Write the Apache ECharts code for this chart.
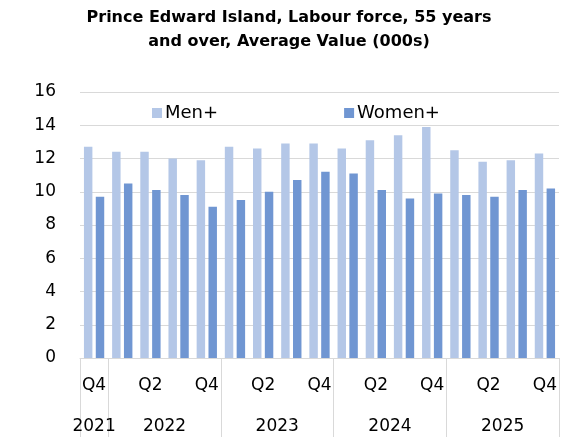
<!DOCTYPE html>
<html>
<head>
<meta charset="utf-8">
<script src="https://cdn.jsdelivr.net/npm/echarts@6/dist/echarts.min.js"></script>
<style>
  html, body { margin: 0; padding: 0; background: #fff; }
  #chart { width: 578px; height: 437px; }
</style>
</head>
<body>
<div id="chart"></div>
<script>
// quarters Q4 2021 .. Q4 2025
const quarters = ["Q4", "Q1", "Q2", "Q3", "Q4", "Q1", "Q2", "Q3", "Q4",
  "Q1", "Q2", "Q3", "Q4", "Q1", "Q2", "Q3", "Q4"];
const men = [12.7, 12.4, 12.4, 12.0, 11.9, 12.7, 12.6, 12.9, 12.9,
  12.6, 13.1, 13.4, 13.9, 12.5, 11.8, 11.9, 12.3];
const women = [9.7, 10.5, 10.1, 9.8, 9.1, 9.5, 10.0, 10.7, 11.2,
  11.1, 10.1, 9.6, 9.9, 9.8, 9.7, 10.1, 10.2];

// year groups: label + number of quarters in each
const years = ["2021", "2022", "2023", "2024", "2025"];
const yearSpans = [1, 4, 4, 4, 4];

// second axis runs in half-quarter steps so group centres and edges land on slots
const halfSlots = [];
const yearLabelAt = {};
const yearEdgeAt = { 0: true };
let pos = 0;
years.forEach((y, i) => {
  yearLabelAt[pos + yearSpans[i]] = y;
  pos += yearSpans[i] * 2;
  yearEdgeAt[pos] = true;
});
for (let i = 0; i <= pos; i++) halfSlots.push(yearLabelAt[i] || "");

const font = "DejaVu Sans";
const myChart = echarts.init(document.getElementById("chart"));

myChart.setOption({
  animation: false,
  title: {
    text: "Prince Edward Island, Labour force, 55 years\nand over, Average Value (000s)",
    left: "center",
    top: 1,
    textStyle: { fontFamily: font, fontSize: 16, fontWeight: "bold", color: "#000", lineHeight: 24 }
  },
  legend: {
    left: 147,
    top: 99,
    itemWidth: 10,
    itemHeight: 10,
    itemGap: 126,
    icon: "rect",
    textStyle: { fontFamily: font, fontSize: 18, color: "#000", padding: [0, 0, 0, -2] },
    data: ["Men+", "Women+"]
  },
  grid: { left: 80, right: 19, top: 92, bottom: 79 },
  xAxis: [
    {
      type: "category",
      data: quarters,
      axisLine: { lineStyle: { color: "#d9d9d9" } },
      axisTick: { show: false },
      axisLabel: { interval: 1, margin: 19, fontFamily: font, fontSize: 17, color: "#000" }
    },
    {
      type: "category",
      position: "bottom",
      data: halfSlots,
      boundaryGap: false,
      axisLine: { show: false },
      axisTick: {
        length: 80,
        interval: (i) => !!yearEdgeAt[i],
        lineStyle: { color: "#d9d9d9" }
      },
      axisLabel: {
        interval: (i) => halfSlots[i] !== "",
        margin: 60,
        fontFamily: font, fontSize: 17, color: "#000"
      },
      splitLine: { show: false }
    }
  ],
  yAxis: {
    type: "value",
    min: 0,
    max: 16,
    interval: 2,
    axisLine: { show: false },
    axisTick: { show: false },
    axisLabel: { margin: 24, fontFamily: font, fontSize: 17, color: "#000" },
    splitLine: { lineStyle: { color: "#d9d9d9" } }
  },
  series: [
    {
      name: "Men+",
      type: "bar",
      data: men,
      itemStyle: { color: "#b4c7e7" },
      barGap: "40%",
      barCategoryGap: "28%"
    },
    {
      name: "Women+",
      type: "bar",
      data: women,
      itemStyle: { color: "#7096d2" }
    }
  ]
});
</script>
</body>
</html>
